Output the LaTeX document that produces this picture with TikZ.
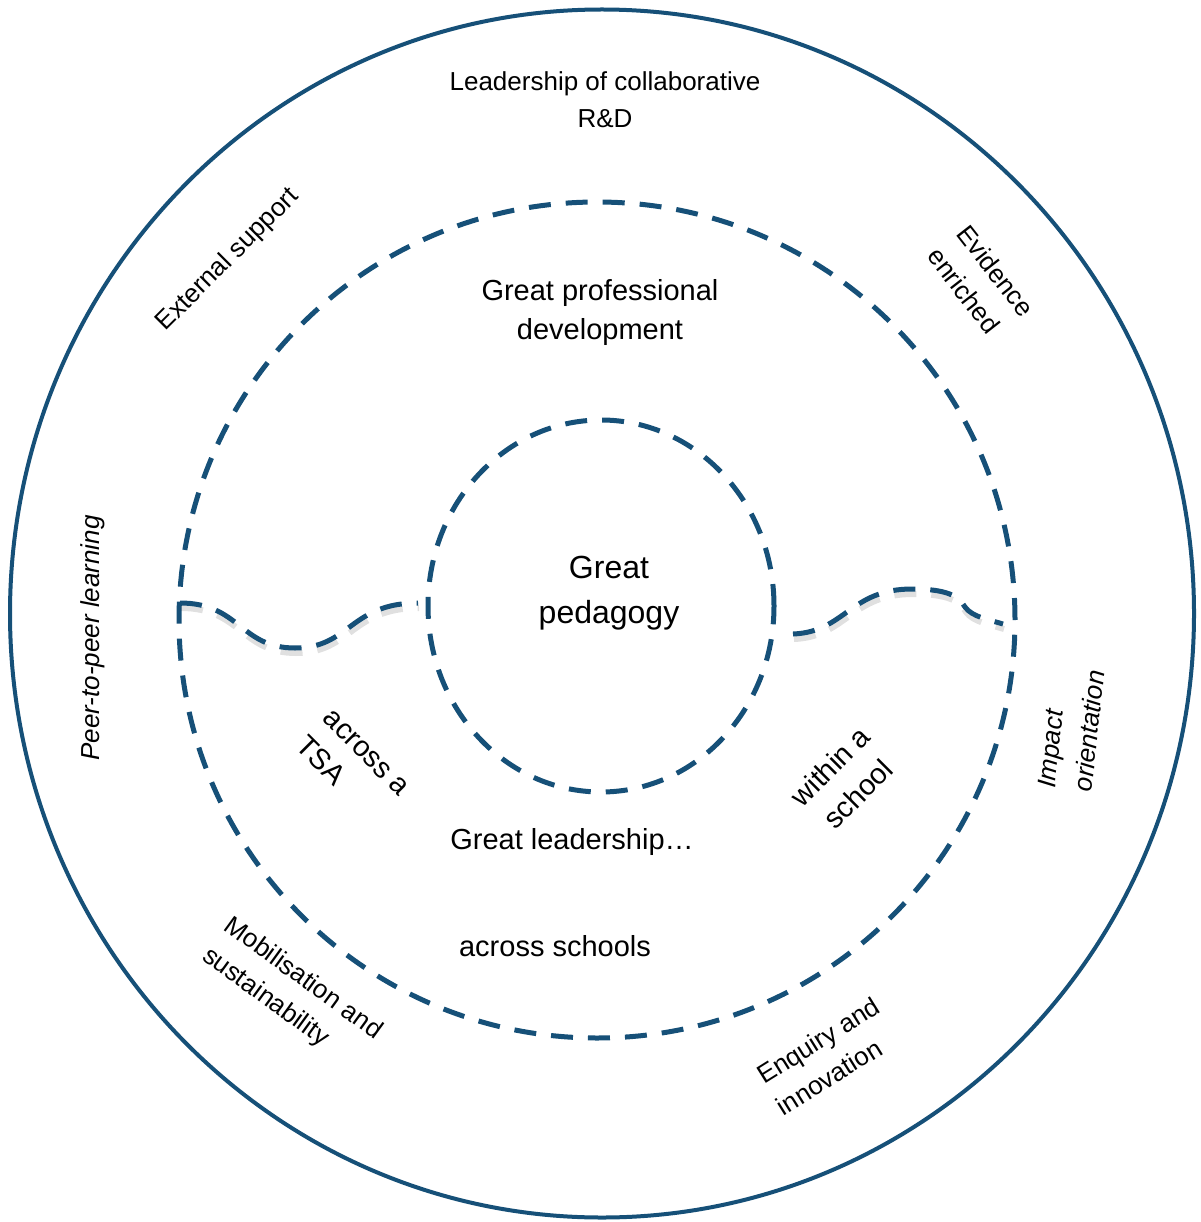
\documentclass[tikz,border=0pt]{standalone}
\usepackage{fontspec}
\setmainfont{Liberation Sans}
\definecolor{ring}{RGB}{22,80,120}
\begin{document}
\begin{tikzpicture}[x=1pt,y=-1pt,
  ringline/.style={draw=ring,line width=4pt},
  dashring/.style={draw=ring,line width=5pt,dash pattern=on 22pt off 15pt},
  waveshadow/.style={draw=black,opacity=0.12,line width=6pt,dash pattern=on 22pt off 15pt},
  lbl/.style={align=center,inner sep=0pt,text=black},
  outerlbl/.style={lbl,font=\fontsize{26}{37}\selectfont},
  innerlbl/.style={lbl,font=\fontsize{29}{39}\selectfont},
  biglbl/.style={lbl,font=\fontsize{32}{45}\selectfont}
]
\useasboundingbox (0,0) rectangle (1200,1222);
% rings
\draw[ringline] (602,613.5) ellipse [x radius=592pt, y radius=604pt];
\draw[dashring] (597,620) circle [radius=418pt];
\draw[dashring] (601,606) ellipse [x radius=173pt, y radius=186pt];
% wavy dividers: shadows
\draw[waveshadow] ([shift={(1,5)}]180,603) .. controls ([shift={(1,5)}]240,603) and ([shift={(1,5)}]240,648) .. ([shift={(1,5)}]295,648) .. controls ([shift={(1,5)}]350,648) and ([shift={(1,5)}]350,603) .. ([shift={(1,5)}]418,603);
\draw[waveshadow] ([shift={(1,5)}]793,634) .. controls ([shift={(1,5)}]845,632) and ([shift={(1,5)}]850,589) .. ([shift={(1,5)}]912,589) .. controls ([shift={(1,5)}]955,589) and ([shift={(1,5)}]960,600) .. ([shift={(1,5)}]965,607) .. controls ([shift={(1,5)}]972,617) and ([shift={(1,5)}]990,620) .. ([shift={(1,5)}]1003,624);
% wavy dividers
\coordinate (wl1) at (180,603);
\coordinate (wl2) at (295,648);
\coordinate (wl3) at (418,603);
\coordinate (wr1) at (793,634);
\coordinate (wr2) at (912,589);
\coordinate (wr3) at (965,607);
\coordinate (wr4) at (1003,624);
\draw[dashring] (wl1) .. controls (240,603) and (240,648) .. (wl2) .. controls (350,648) and (350,603) .. (wl3);
\draw[dashring] (wr1) .. controls (845,632) and (850,589) .. (wr2) .. controls (955,589) and (960,600) .. (wr3) .. controls (972,617) and (990,620) .. (wr4);
% labels
\node[outerlbl] (lead) at (605,100) {Leadership of collaborative\\R\&D};
\node[outerlbl,rotate=45] (ext) at (228,260) {External support};
\node[outerlbl,align=left,rotate=-52] (evid) at (981,282) {Evidence\\enriched};
\node[outerlbl,rotate=90,font=\fontsize{26}{37}\selectfont\itshape] (peer) at (93,638) {Peer-to-peer learning};
\node[outerlbl,align=left,rotate=84,font=\fontsize{26}{37}\selectfont\itshape] (impact) at (1071,729) {Impact\\orientation};
\node[outerlbl,align=left,rotate=-36] (mob) at (292,994) {Mobilisation and\\sustainability};
\node[outerlbl,align=left,rotate=32] (enq) at (828,1056) {Enquiry and\\innovation};
\node[innerlbl] (gpd) at (600,313) {Great professional\\development};
\node[biglbl] (gped) at (609,593) {Great\\pedagogy};
\node[innerlbl,align=left,rotate=-45] (tsa) at (352,767) {across a\\TSA};
\node[innerlbl,rotate=45] (within) at (844,780) {within a\\school};
\node[innerlbl] (gl) at (572,842) {Great leadership…};
\node[innerlbl] (acs) at (555,946) {across schools};
\end{tikzpicture}
\end{document}
